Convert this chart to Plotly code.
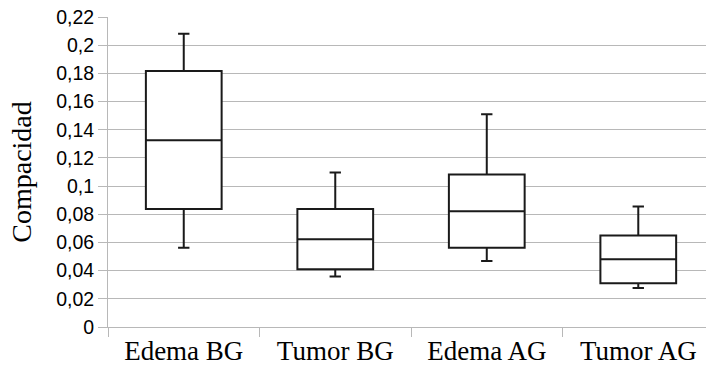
import plotly.graph_objects as go

categories = ["Edema BG", "Tumor BG", "Edema AG", "Tumor AG"]
lower_whisker = [0.0562, 0.0359, 0.0468, 0.0276]
q1_values = [0.0837, 0.0409, 0.0562, 0.0310]
median_values = [0.1326, 0.0622, 0.0822, 0.0480]
q3_values = [0.1817, 0.0837, 0.1083, 0.0650]
upper_whisker = [0.2082, 0.1097, 0.1510, 0.0856]

tick_vals = [0, 0.02, 0.04, 0.06, 0.08, 0.1, 0.12, 0.14, 0.16, 0.18, 0.2, 0.22]
tick_text = ["0", "0,02", "0,04", "0,06", "0,08", "0,1", "0,12", "0,14", "0,16", "0,18", "0,2", "0,22"]

fig = go.Figure()
fig.add_trace(go.Box(
    x=categories,
    q1=q1_values,
    median=median_values,
    q3=q3_values,
    lowerfence=lower_whisker,
    upperfence=upper_whisker,
    fillcolor="white",
    line=dict(color="#1a1a1a", width=2),
    whiskerwidth=0.15,
    width=0.5,
    boxpoints=False,
    hoverinfo="skip",
    showlegend=False,
))

fig.update_layout(
    width=706, height=368,
    margin=dict(l=108, r=0, t=17, b=41),
    paper_bgcolor="white", plot_bgcolor="white",
    xaxis=dict(
        type="category",
        range=[-0.5, 3.447],
        tickson="boundaries",
        ticks="outside", ticklen=9, tickcolor="#b8b8b8", tickwidth=1,
        showgrid=False,
        showline=True, linecolor="#b8b8b8", linewidth=1,
        tickfont=dict(family="Liberation Serif", size=27, color="black"),
        ticklabelstandoff=0,
        automargin=False,
        zeroline=False,
    ),
    yaxis=dict(
        range=[0, 0.22],
        tickvals=tick_vals, ticktext=tick_text,
        ticks="outside", ticklen=9, tickcolor="#b8b8b8",
        showgrid=True, gridcolor="#b8b8b8", gridwidth=1,
        showline=True, linecolor="#b8b8b8", linewidth=1,
        zeroline=False,
        tickfont=dict(family="Liberation Sans", size=19.5, color="black"),
        title=dict(text="Compacidad", font=dict(family="Liberation Serif", size=28, color="black"), standoff=16),
        automargin=False,
    ),
)

fig.write_html(
    "out.html",
    config={"displayModeBar": False},
    post_script="document.body.style.margin='0';document.body.style.overflow='hidden';",
)
